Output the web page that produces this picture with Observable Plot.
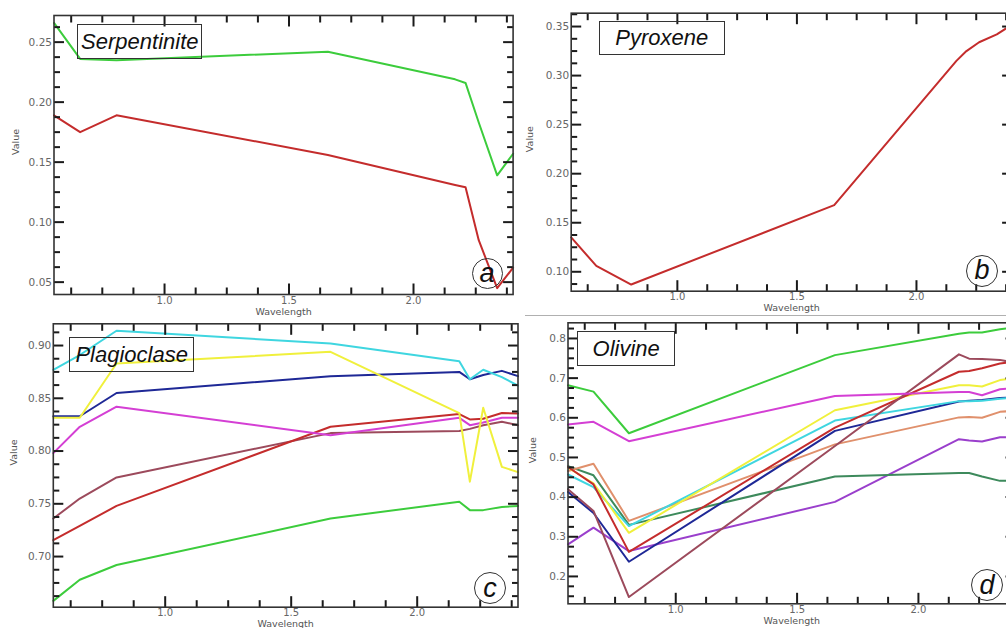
<!DOCTYPE html>
<html><head><meta charset="utf-8">
<script src="https://cdn.jsdelivr.net/npm/d3@7"></script>
<script src="https://cdn.jsdelivr.net/npm/@observablehq/plot@0.6"></script>
<style>
html,body{margin:0;padding:0;background:#fff;}
#root{position:relative;width:1006px;height:628px;overflow:hidden;background:#fff;}
.panel{position:absolute;}
.panel svg{overflow:visible;max-width:none;background:transparent;}
.tbox{position:absolute;border:1.5px solid #333;box-sizing:border-box;display:flex;align-items:center;justify-content:center;font:italic 22px "Liberation Sans",Arial,sans-serif;color:#111;}
.circ{position:absolute;border:1.5px solid #333;border-radius:50%;box-sizing:border-box;display:flex;align-items:center;justify-content:center;font:italic 27px "Liberation Sans",Arial,sans-serif;color:#111;line-height:1;}
.sep{position:absolute;left:525px;top:315px;width:481px;height:0;border-top:1.5px solid #b0b0b0;}
</style></head>
<body><div id="root"></div>
<script>
// ---- data ----
const wavelengths = [0.556, 0.661, 0.807, 1.656, 2.167, 2.209, 2.262, 2.336, 2.400];
const xTickLabels = [1.0, 1.5, 2.0];

// (a) Serpentinite
const serpGreen = [0.266, 0.236, 0.235, 0.242, 0.219, 0.216, 0.183, 0.139, 0.157];
const serpRed   = [0.189, 0.175, 0.189, 0.156, 0.131, 0.129, 0.085, 0.045, 0.062];
const serpTicks = [0.05, 0.10, 0.15, 0.20, 0.25];

// (b) Pyroxene
const pyroRed = [0.135, 0.106, 0.087, 0.168, 0.315, 0.325, 0.334, 0.342, 0.352];
const pyroTicks = [0.10, 0.15, 0.20, 0.25, 0.30, 0.35];

// (c) Plagioclase
const plagCyan    = [0.877, 0.891, 0.914, 0.902, 0.885, 0.868, 0.877, 0.870, 0.862];
const plagYellow  = [0.8315, 0.8315, 0.883, 0.894, 0.836, 0.771, 0.841, 0.785, 0.780];
const plagBlue    = [0.833, 0.833, 0.855, 0.871, 0.875, 0.868, 0.872, 0.876, 0.871];
const plagMagenta = [0.798, 0.823, 0.842, 0.815, 0.8315, 0.8245, 0.827, 0.8315, 0.8315];
const plagRed     = [0.7155, 0.729, 0.748, 0.823, 0.835, 0.830, 0.8306, 0.836, 0.8356];
const plagMauve   = [0.736, 0.755, 0.775, 0.817, 0.819, 0.821, 0.8245, 0.8277, 0.8245];
const plagGreen   = [0.658, 0.678, 0.692, 0.736, 0.752, 0.744, 0.744, 0.747, 0.748];
const plagTicks = [0.70, 0.75, 0.80, 0.85, 0.90];

// (d) Olivine
const olivGreen     = [0.682, 0.666, 0.561, 0.758, 0.812, 0.815, 0.815, 0.823, 0.828];
const olivMagenta   = [0.583, 0.590, 0.541, 0.655, 0.665, 0.665, 0.657, 0.672, 0.675];
const olivYellow    = [0.474, 0.435, 0.310, 0.619, 0.682, 0.682, 0.679, 0.695, 0.700];
const olivCyan      = [0.457, 0.425, 0.327, 0.593, 0.642, 0.642, 0.643, 0.648, 0.652];
const olivRed       = [0.476, 0.432, 0.262, 0.575, 0.716, 0.718, 0.725, 0.737, 0.742];
const olivBlue      = [0.413, 0.360, 0.237, 0.567, 0.641, 0.643, 0.645, 0.650, 0.652];
const olivOrange    = [0.466, 0.484, 0.340, 0.533, 0.601, 0.602, 0.600, 0.615, 0.618];
const olivDarkGreen = [0.478, 0.455, 0.330, 0.452, 0.461, 0.461, 0.452, 0.441, 0.442];
const olivMauve     = [0.420, 0.365, 0.148, 0.529, 0.760, 0.749, 0.748, 0.746, 0.738];
const olivPurple    = [0.281, 0.323, 0.264, 0.388, 0.546, 0.543, 0.540, 0.551, 0.551];
const olivTicks = [0.2, 0.3, 0.4, 0.5, 0.6, 0.7, 0.8];

const C = {
  green: "#3ccc3c", red: "#c42c2c", cyan: "#3fd6e0", yellow: "#f0f03c", blue: "#1e2896",
  magenta: "#d43fd4", mauve: "#9c4a5c", orange: "#e0906c", darkGreen: "#3d8a5c", purple: "#9a3fcc"
};

const root = document.getElementById("root");
const X_DOMAIN = [0.556, 2.4];

function makePanel(cfg) {
  const {left, top, width, height, mL, mR, mT, mB, yDomain, yMajor, yMinorStep, yDigits, series, valueDx} = cfg;
  const iw = width - mL - mR, ih = height - mT - mB;
  const [yLo, yHi] = yDomain, [xLo, xHi] = X_DOMAIN;
  const ky = (yHi - yLo) / ih;   // y data units per pixel
  const kx = (xHi - xLo) / iw;   // x data units per pixel
  const xMinor = d3.range(5, 20).map(i => i * 0.125).filter(v => !xTickLabels.some(m => Math.abs(m - v) < 1e-9));
  const yMinor = d3.range(Math.ceil(yLo / yMinorStep - 1e-9), Math.floor(yHi / yMinorStep + 1e-9) + 1)
    .map(i => +(i * yMinorStep).toFixed(5))
    .filter(v => !yMajor.some(m => Math.abs(m - v) < 1e-9));
  // tick segments as two-point polylines (one id per tick), built from the tick values
  const tickPts = [];
  let id = 0;
  const addX = (v, len) => {
    tickPts.push({id, x: v, y: yLo}, {id, x: v, y: yLo + len * ky}); id++;
    tickPts.push({id, x: v, y: yHi}, {id, x: v, y: yHi - len * ky}); id++;
  };
  const addY = (v, len) => {
    tickPts.push({id, x: xLo, y: v}, {id, x: xLo + len * kx, y: v}); id++;
    tickPts.push({id, x: xHi, y: v}, {id, x: xHi - len * kx, y: v}); id++;
  };
  xTickLabels.forEach(v => addX(v, 11));
  xMinor.forEach(v => addX(v, 7));
  yMajor.forEach(v => addY(v, 10));
  yMinor.forEach(v => addY(v, 6));
  const marks = [
    ...series.map(s => Plot.line(wavelengths.map((w, i) => ({x: w, y: s.values[i]})),
      {x: "x", y: "y", stroke: s.color, strokeWidth: 2, strokeLinejoin: "round"})),
    Plot.line(tickPts, {x: "x", y: "y", z: "id", stroke: "#1a1a1a", strokeWidth: 2, strokeLinecap: "butt"}),
    Plot.frame({stroke: "#333", strokeWidth: 1.6, fill: "none"}),
    Plot.text(xTickLabels, {x: d => d, text: d => d.toFixed(1), frameAnchor: "bottom", lineAnchor: "top", dy: 2, fill: "#666", fontSize: 10}),
    Plot.text(yMajor, {y: d => d, text: d => d.toFixed(yDigits), frameAnchor: "left", textAnchor: "end", dx: -2, fill: "#666", fontSize: 10.5}),
    Plot.text(["Wavelength"], {text: d => d, frameAnchor: "bottom", lineAnchor: "middle", dy: 17, fill: "#555", fontSize: 9.5}),
    Plot.text(["Value"], {text: d => d, frameAnchor: "left", rotate: -90, dx: valueDx, fill: "#555", fontSize: 9.5})
  ];
  const svg = Plot.plot({
    width, height, marginLeft: mL, marginRight: mR, marginTop: mT, marginBottom: mB,
    x: {domain: X_DOMAIN, axis: null},
    y: {domain: yDomain, axis: null},
    style: {background: "transparent", overflow: "visible", fontFamily: "'DejaVu Sans', sans-serif"},
    marks
  });
  const div = document.createElement("div");
  div.className = "panel";
  div.style.left = left + "px"; div.style.top = top + "px";
  div.style.width = width + "px"; div.style.height = height + "px";
  div.appendChild(svg);
  root.appendChild(div);
}

makePanel({left: 0, top: 0, width: 530, height: 318, mL: 53.5, mR: 17.4, mT: 15, mB: 24,
  yDomain: [0.0397, 0.2722], yMajor: serpTicks, yMinorStep: 0.0125, yDigits: 2, valueDx: -37.8,
  series: [{values: serpGreen, color: C.green}, {values: serpRed, color: C.red}]});

makePanel({left: 510, top: 0, width: 520, height: 318, mL: 60.7, mR: 18.4, mT: 12.7, mB: 27.3,
  yDomain: [0.0802, 0.3636], yMajor: pyroTicks, yMinorStep: 0.0125, yDigits: 2, valueDx: -41,
  series: [{values: pyroRed, color: C.red}]});

makePanel({left: 0, top: 318, width: 535, height: 310, mL: 52.8, mR: 17.5, mT: 5.3, mB: 21.3,
  yDomain: [0.652, 0.9206], yMajor: plagTicks, yMinorStep: 0.0125, yDigits: 2, valueDx: -39.5,
  series: [
    {values: plagGreen, color: C.green}, {values: plagMauve, color: C.mauve}, {values: plagRed, color: C.red},
    {values: plagMagenta, color: C.magenta}, {values: plagBlue, color: C.blue}, {values: plagYellow, color: C.yellow},
    {values: plagCyan, color: C.cyan}]});

makePanel({left: 510, top: 318, width: 520, height: 310, mL: 57.5, mR: 15, mT: 4.3, mB: 24.7,
  yDomain: [0.131, 0.8395], yMajor: olivTicks, yMinorStep: 0.025, yDigits: 1, valueDx: -35.2,
  series: [
    {values: olivPurple, color: C.purple}, {values: olivDarkGreen, color: C.darkGreen}, {values: olivOrange, color: C.orange},
    {values: olivBlue, color: C.blue}, {values: olivCyan, color: C.cyan}, {values: olivYellow, color: C.yellow},
    {values: olivRed, color: C.red}, {values: olivMauve, color: C.mauve},
    {values: olivMagenta, color: C.magenta}, {values: olivGreen, color: C.green}]});

// annotations
const titles = [
  {text: "Serpentinite", l: 77.3, t: 24.3, w: 125, h: 35},
  {text: "Pyroxene", l: 598.7, t: 20.7, w: 126, h: 34.6},
  {text: "Plagioclase", l: 69, t: 337.3, w: 125.3, h: 35},
  {text: "Olivine", l: 577, t: 331.3, w: 98.3, h: 35}
];
const letters = [
  {text: "a", l: 471.5, t: 258, s: 31},
  {text: "b", l: 966, t: 254.5, s: 32},
  {text: "c", l: 474, t: 572, s: 32},
  {text: "d", l: 971, t: 569, s: 32}
];
const sep = document.createElement("div"); sep.className = "sep"; root.appendChild(sep);
titles.forEach(b => {
  const d = document.createElement("div"); d.className = "tbox"; d.textContent = b.text;
  Object.assign(d.style, {left: b.l + "px", top: b.t + "px", width: b.w + "px", height: b.h + "px"});
  root.appendChild(d);
});
letters.forEach(b => {
  const d = document.createElement("div"); d.className = "circ"; d.textContent = b.text;
  Object.assign(d.style, {left: b.l + "px", top: b.t + "px", width: b.s + "px", height: b.s + "px"});
  root.appendChild(d);
});
</script></body></html>
